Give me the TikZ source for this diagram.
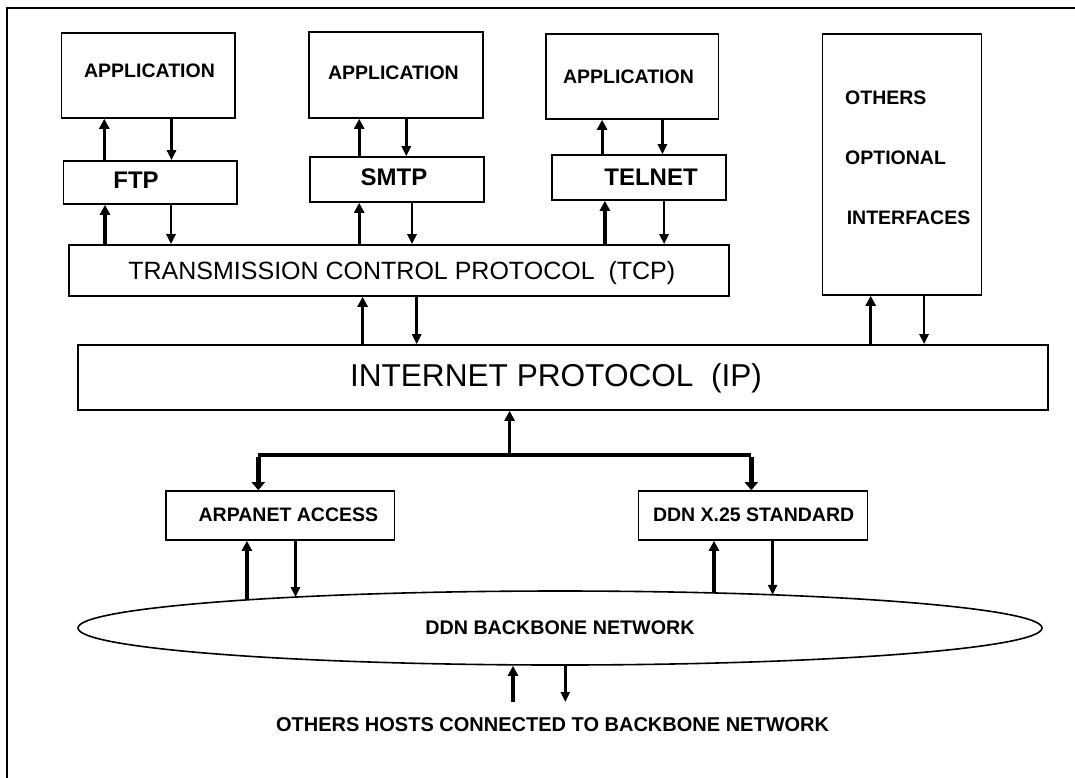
\documentclass[tikz,border=0pt]{standalone}
\usepackage{fontspec}
\setmainfont{Liberation Sans}
\usetikzlibrary{arrows.meta,fit,shapes.geometric}
\begin{document}
\begin{tikzpicture}[x=1pt,y=-1pt,
  box/.style={draw, line width=1.6pt, inner sep=0pt},
  lbl/.style={inner sep=0pt, text depth=0pt},
  smalltxt/.style={lbl, font=\bfseries\fontsize{19.5}{22}\selectfont},
  midtxt/.style={lbl, font=\bfseries\fontsize{24}{28}\selectfont},
  tcptxt/.style={lbl, font=\fontsize{25}{30}\selectfont},
  iptxt/.style={lbl, font=\fontsize{31.6}{36}\selectfont},
  uparrow/.style={draw, line width=3.2pt, -{Triangle[width=10pt,length=10pt]}},
  downarrow/.style={draw, line width=2.6pt, -{Triangle[width=9pt,length=10pt]}},
  busline/.style={draw, line width=4.5pt},
  busarrow/.style={draw, line width=5pt, -{Triangle[width=13pt,length=8pt]}},
  frameline/.style={draw, line width=2pt}]

\useasboundingbox (0,0) rectangle (1075,777);

% outer frame (top and left rule)
\draw[frameline] (7,790) -- (7,8) -- (1090,8);

% application layer
\node[box, fit={(61.3,33) (235.2,118)}] (app1) {};
\node[box, fit={(308.9,32) (483.1,118)}] (app2) {};
\node[box, fit={(546,34) (718.5,119)}] (app3) {};
\node[box, fit={(822.5,34) (981.6,295)}] (others) {};
\node[smalltxt] (tapp1) at (149.5,71) {APPLICATION};
\node[smalltxt] (tapp2) at (393.4,73) {APPLICATION};
\node[smalltxt] (tapp3) at (628.5,77) {APPLICATION};
\node[smalltxt, anchor=west] (toth1) at (845,98) {OTHERS};
\node[smalltxt, anchor=west] (toth2) at (845,158) {OPTIONAL};
\node[smalltxt, anchor=west] (toth3) at (846.6,218) {INTERFACES};

% service protocols
\node[box, fit={(63.4,161) (236.9,204)}] (ftp) {};
\node[box, fit={(310,157) (483.8,202)}] (smtp) {};
\node[box, fit={(552.2,155) (726.1,200)}] (telnet) {};
\node[midtxt] (tftp) at (136,180) {FTP};
\node[midtxt] (tsmtp) at (394,177) {SMTP};
\node[midtxt] (ttelnet) at (651,177) {TELNET};

% transport and internet layers
\node[box, fit={(69.2,245) (728.9,296)}] (tcp) {};
\node[tcptxt] (ttcp) at (401.8,270) {TRANSMISSION CONTROL PROTOCOL\ \ (TCP)};
\node[box, fit={(77.8,345) (1048,410)}] (ip) {};
\node[iptxt] (tip) at (556,375) {INTERNET PROTOCOL\ \ (IP)};

% network access
\node[box, fit={(166,491) (394.6,540)}] (arpa) {};
\node[box, fit={(638.3,491) (867.3,540)}] (x25) {};
\node[smalltxt] (tarpa) at (288.4,515) {ARPANET ACCESS};
\node[smalltxt] (tx25) at (753.6,515) {DDN X.25 STANDARD};

% backbone
\node[draw, line width=1.6pt, ellipse, minimum width=964pt, minimum height=74pt,
      inner sep=0pt, font=\bfseries\fontsize{19.7}{22}\selectfont] (net) at (560,628)
      {DDN BACKBONE NETWORK};
\node[lbl, font=\bfseries\fontsize{20}{24}\selectfont] (hosts) at (552.6,725)
      {OTHERS HOSTS CONNECTED TO BACKBONE NETWORK};

% points on the backbone outline
\coordinate (na1) at (246.9,599.9);
\coordinate (na2) at (295.5,597.1);
\coordinate (nx1) at (714,592.9);
\coordinate (nx2) at (772.6,594.8);
\coordinate (h1) at (513,702);
\coordinate (h2) at (565.3,702);

% application <-> protocol
\draw[uparrow]   (104.3,0 |- ftp.north) -- (104.3,0 |- app1.south);
\draw[downarrow] (171.5,0 |- app1.south) -- (171.5,0 |- ftp.north);
\draw[uparrow]   (359.2,0 |- smtp.north) -- (359.2,0 |- app2.south);
\draw[downarrow] (406.3,0 |- app2.south) -- (406.3,0 |- smtp.north);
\draw[uparrow]   (602.1,0 |- telnet.north) -- (602.1,0 |- app3.south);
\draw[downarrow] (662.4,0 |- app3.south) -- (662.4,0 |- telnet.north);

% protocol <-> TCP
\draw[uparrow]   (105,0 |- tcp.north) -- (105,0 |- ftp.south);
\draw[downarrow] (171,0 |- ftp.south) -- (171,0 |- tcp.north);
\draw[uparrow]   (359.2,0 |- tcp.north) -- (359.2,0 |- smtp.south);
\draw[downarrow] (412,0 |- smtp.south) -- (412,0 |- tcp.north);
\draw[uparrow]   (604.9,0 |- tcp.north) -- (604.9,0 |- telnet.south);
\draw[downarrow] (664.1,0 |- telnet.south) -- (664.1,0 |- tcp.north);

% TCP / other interfaces <-> IP
\draw[uparrow]   (362.6,0 |- ip.north) -- (362.6,0 |- tcp.south);
\draw[downarrow] (416.7,0 |- tcp.south) -- (416.7,0 |- ip.north);
\draw[uparrow]   (870.7,0 |- ip.north) -- (870.7,0 |- others.south);
\draw[downarrow] (924.1,0 |- others.south) -- (924.1,0 |- ip.north);

% IP <-> access branch
\coordinate (jn) at (509.6,455);
\coordinate (ja) at (258.3,455);
\coordinate (jx) at (751.3,455);
\draw[uparrow] (jn) -- (jn |- ip.south);
\draw[busline] (ja) -- (jx);
\draw[busarrow] ([yshift=-2pt]ja) -- (ja |- arpa.north);
\draw[busarrow] ([yshift=-2pt]jx) -- (jx |- x25.north);

% access <-> backbone
\draw[uparrow]   (na1) -- (na1 |- arpa.south);
\draw[downarrow] (na2 |- arpa.south) -- (na2);
\draw[uparrow]   (nx1) -- (nx1 |- x25.south);
\draw[downarrow] (nx2 |- x25.south) -- (nx2);

% backbone <-> other hosts
\draw[uparrow]   (h1) -- (h1 |- net.south);
\draw[downarrow] (h2 |- net.south) -- (h2);
\end{tikzpicture}
\end{document}
